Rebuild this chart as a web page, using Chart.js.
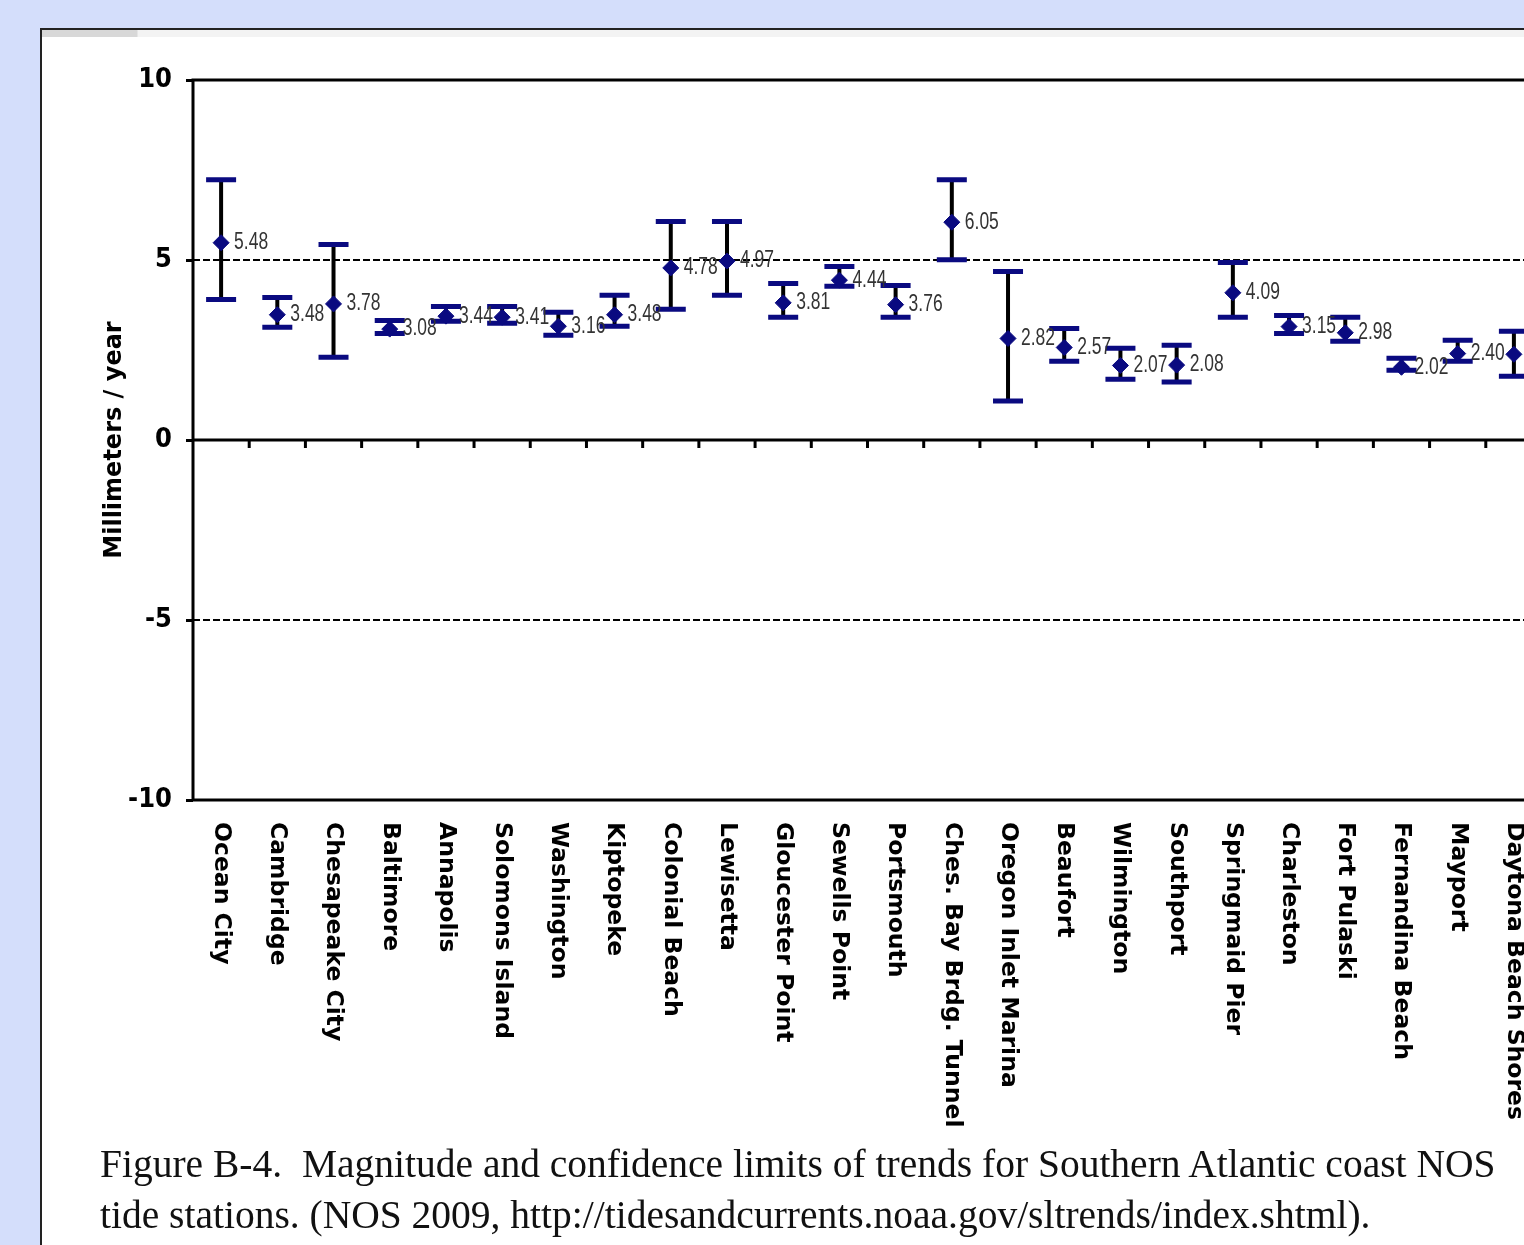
<!DOCTYPE html>
<html>

<head>
    <meta charset="UTF-8">
    <title>Figure B-4 - Southern Atlantic coast NOS tide stations</title>
    <script src="https://cdn.jsdelivr.net/npm/chart.js"></script>
    <style>
        body { margin: 0; background: #d4defb; overflow: hidden; }
        .panel {
            position: absolute; left: 40px; top: 28px; width: 1600px; height: 1300px;
            background: #fff; border: 2px solid #222;
        }
        .strip { position: absolute; left: 0; top: 0; width: 100%; height: 7px; background: linear-gradient(90deg, #d8d8d8 0, #d8d8d8 95px, #f3f3f3 96px, #f3f3f3 100%); }
        #wrap { position: absolute; left: 0; top: 0; width: 1600px; height: 1140px; }
        .caption {
            position: absolute; left: 100px; top: 1139px; width: 1500px;
            font-family: "Liberation Serif", "DejaVu Serif", serif; font-size: 39.5px; line-height: 51px; color: #111;
            white-space: nowrap;
        }
    </style>
</head>

<body>
    <div class="panel"><div class="strip"></div></div>
    <div id="wrap"><canvas id="trendChart" width="1600" height="1140"></canvas></div>
    <div class="caption">
        Figure B-4.&nbsp; Magnitude and confidence limits of trends for Southern Atlantic coast NOS<br>
        tide stations. (NOS 2009, http://tidesandcurrents.noaa.gov/sltrends/index.shtml).
    </div>

    <script>
        // stations (left to right)
        var stations = ['Ocean City', 'Cambridge', 'Chesapeake City', 'Baltimore', 'Annapolis', 'Solomons Island',
            'Washington', 'Kiptopeke', 'Colonial Beach', 'Lewisetta', 'Gloucester Point', 'Sewells Point',
            'Portsmouth', 'Ches. Bay Brdg. Tunnel', 'Oregon Inlet Marina', 'Beaufort', 'Wilmington', 'Southport',
            'Springmaid Pier', 'Charleston', 'Fort Pulaski', 'Fernandina Beach', 'Mayport', 'Daytona Beach Shores'];

        // trend, mm/year
        var trends = [5.48, 3.48, 3.78, 3.08, 3.44, 3.41, 3.16, 3.48, 4.78, 4.97, 3.81, 4.44,
            3.76, 6.05, 2.82, 2.57, 2.07, 2.08, 4.09, 3.15, 2.98, 2.02, 2.40, 2.38];

        // confidence limits
        var upperLimits = [7.23, 3.96, 5.43, 3.32, 3.71, 3.71, 3.55, 4.02, 6.07, 6.07, 4.35, 4.82,
            4.29, 7.23, 4.68, 3.10, 2.55, 2.63, 4.93, 3.46, 3.41, 2.27, 2.77, 3.02];
        var lowerLimits = [3.90, 3.13, 2.30, 2.96, 3.30, 3.24, 2.91, 3.16, 3.63, 4.02, 3.41, 4.27,
            3.41, 5.01, 1.08, 2.19, 1.69, 1.61, 3.41, 2.96, 2.74, 1.94, 2.19, 1.77];

        var yTicks = [-10, -5, 0, 5, 10];
        var navy = '#0a0a80';

        // error bars, reference lines, frame and labels
        var figurePlugin = {
            id: 'figurePlugin',
            beforeDatasetsDraw: function (chart) {
                var ctx = chart.ctx, xs = chart.scales.x, ys = chart.scales.y, area = chart.chartArea;
                ctx.save();
                // dashed lines at +5 / -5
                ctx.strokeStyle = '#000';
                ctx.lineWidth = 2;
                ctx.setLineDash([7, 3]);
                [5, -5].forEach(function (v) {
                    var y = ys.getPixelForValue(v);
                    ctx.beginPath(); ctx.moveTo(area.left, y); ctx.lineTo(area.right, y); ctx.stroke();
                });
                ctx.setLineDash([]);
                // zero line + ticks
                var y0 = ys.getPixelForValue(0);
                ctx.lineWidth = 3;
                ctx.beginPath(); ctx.moveTo(area.left, y0); ctx.lineTo(area.right, y0); ctx.stroke();
                var step = (area.right - area.left) / stations.length;
                for (var k = 1; k < stations.length; k++) {
                    var tx = area.left + k * step;
                    ctx.beginPath(); ctx.moveTo(tx, y0); ctx.lineTo(tx, y0 + 8); ctx.stroke();
                }
                // error bars
                for (var i = 0; i < stations.length; i++) {
                    var x = xs.getPixelForValue(i);
                    var yu = ys.getPixelForValue(upperLimits[i]);
                    var yl = ys.getPixelForValue(lowerLimits[i]);
                    ctx.strokeStyle = '#000';
                    ctx.lineWidth = 4;
                    ctx.beginPath(); ctx.moveTo(x, yu); ctx.lineTo(x, yl); ctx.stroke();
                    ctx.strokeStyle = navy;
                    ctx.lineWidth = 5;
                    ctx.beginPath();
                    ctx.moveTo(x - 15, yu); ctx.lineTo(x + 15, yu);
                    ctx.moveTo(x - 15, yl); ctx.lineTo(x + 15, yl);
                    ctx.stroke();
                }
                ctx.restore();
            },
            afterDatasetsDraw: function (chart) {
                var ctx = chart.ctx, xs = chart.scales.x, ys = chart.scales.y, area = chart.chartArea;
                ctx.save();
                // value labels, narrow look
                ctx.fillStyle = '#333';
                ctx.font = '23px "Liberation Sans", sans-serif';
                ctx.textAlign = 'left';
                ctx.textBaseline = 'middle';
                for (var i = 0; i < stations.length; i++) {
                    ctx.save();
                    ctx.translate(xs.getPixelForValue(i) + 13, ys.getPixelForValue(trends[i]));
                    ctx.scale(0.76, 1);
                    ctx.fillText(trends[i].toFixed(2), 0, 0);
                    ctx.restore();
                }
                // frame
                ctx.strokeStyle = '#000';
                ctx.lineWidth = 3;
                ctx.strokeRect(area.left, area.top, area.right - area.left, area.bottom - area.top);
                // station names, rotated clockwise
                ctx.fillStyle = '#000';
                ctx.font = 'bold 23.5px "DejaVu Sans", sans-serif';
                ctx.textBaseline = 'middle';
                for (var j = 0; j < stations.length; j++) {
                    ctx.save();
                    ctx.translate(xs.getPixelForValue(j), area.bottom + 22);
                    ctx.rotate(Math.PI / 2);
                    ctx.fillText(stations[j], 0, 0);
                    ctx.restore();
                }
                // y title
                ctx.save();
                ctx.translate(115, (area.top + area.bottom) / 2);
                ctx.rotate(-Math.PI / 2);
                ctx.textAlign = 'center';
                ctx.font = 'bold 24px "DejaVu Sans", sans-serif';
                ctx.fillText('Millimeters / year', 0, 0);
                ctx.restore();
                ctx.restore();
            }
        };

        var ctx = document.getElementById('trendChart').getContext('2d');
        var trendChart = new Chart(ctx, {
            type: 'line',
            data: {
                labels: stations,
                datasets: [{
                    label: 'Trend',
                    data: trends,
                    showLine: false,
                    pointStyle: 'rectRot',
                    pointRadius: 8,
                    pointBackgroundColor: navy,
                    pointBorderColor: navy,
                    pointBorderWidth: 1
                }]
            },
            options: {
                responsive: false,
                animation: false,
                events: [],
                layout: { padding: { left: 0, top: 80, right: 58, bottom: 0 } },
                plugins: { legend: { display: false }, tooltip: { enabled: false } },
                scales: {
                    x: {
                        offset: true,
                        grid: { display: false },
                        border: { display: false },
                        ticks: { display: false },
                        afterFit: function (scale) { scale.height = 340; }
                    },
                    y: {
                        min: -10,
                        max: 10,
                        afterBuildTicks: function (scale) {
                            scale.ticks = yTicks.map(function (v) { return { value: v }; });
                        },
                        grid: { drawOnChartArea: false, drawTicks: true, tickLength: 7, tickColor: '#000', tickWidth: 3 },
                        border: { display: false },
                        ticks: {
                            color: '#000',
                            padding: 14,
                            font: { family: '"DejaVu Sans Condensed", "DejaVu Sans", sans-serif', size: 27, weight: 'bold' }
                        },
                        afterFit: function (scale) { scale.width = 193; }
                    }
                }
            },
            plugins: [figurePlugin]
        });
    </script>
</body>

</html>
